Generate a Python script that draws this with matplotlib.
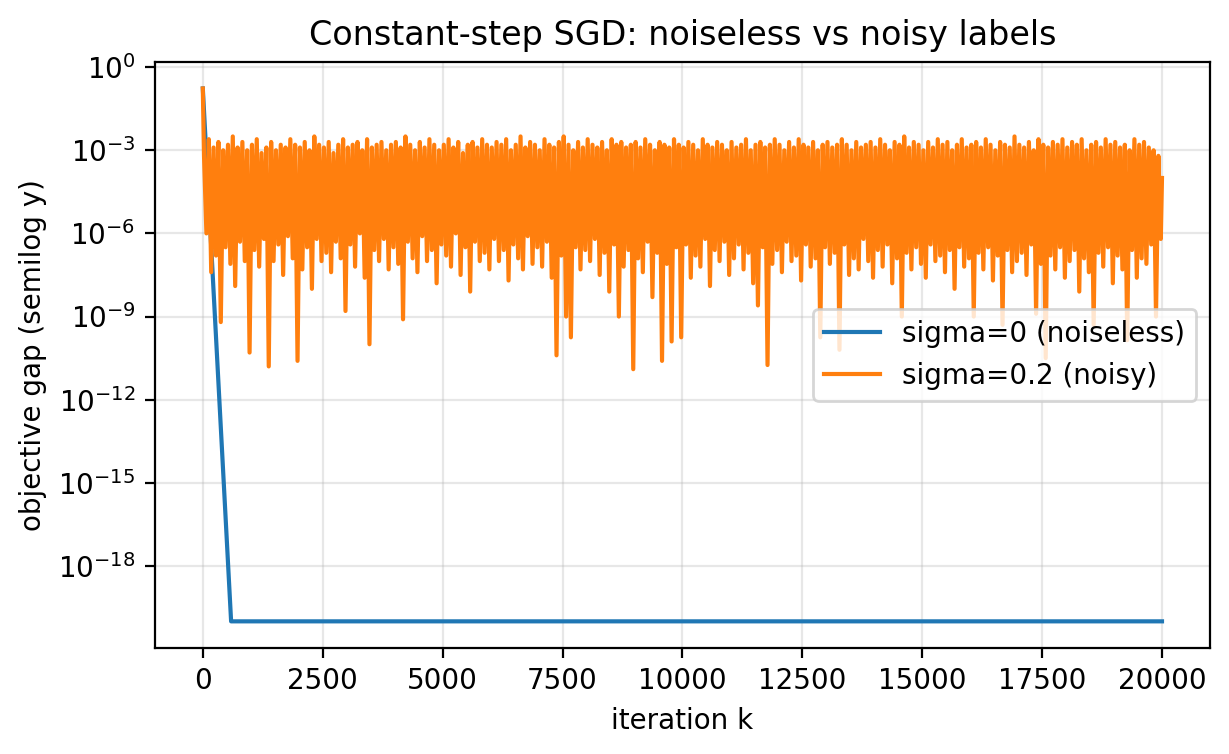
#!/usr/bin/env python3

import numpy as np
import matplotlib
matplotlib.use("Agg")
import matplotlib.pyplot as plt
from matplotlib.ticker import NullLocator

# noiseless run: geometric decay down to a floor
k_clean = [0, 590, 20000]
gap_clean = [1.7e-1, 1.0e-20, 1.0e-20]

# noisy run: log10 of the gap, per 100-iteration bin (peak, then dip)
noisy_start = -0.77
noisy_end = -4.0
bin_width = 100
tops = [
    -3.2, -2.6, -2.9, -2.7, -3.0, -2.8, -2.5, -2.9, -2.7, -3.0,
    -2.8, -2.6, -3.1, -2.9, -2.7, -3.0, -2.8, -2.9, -2.6, -2.8,
    -2.9, -2.7, -3.0, -2.5, -2.8, -2.9, -2.7, -3.1, -2.8, -2.6,
    -2.9, -2.8, -2.7, -3.0, -2.6, -2.9, -2.8, -2.7, -3.0, -2.8,
    -2.7, -2.9, -2.5, -2.8, -3.0, -2.7, -2.9, -2.6, -2.8, -3.0,
    -2.8, -2.6, -2.9, -2.7, -3.1, -2.8, -2.7, -2.9, -2.6, -2.8,
    -2.9, -2.7, -2.8, -2.6, -3.0, -2.8, -2.5, -2.9, -2.7, -2.8,
    -3.0, -2.6, -2.8, -2.9, -2.7, -2.5, -2.8, -3.0, -2.7, -2.9,
    -2.6, -2.8, -2.9, -2.7, -3.0, -2.6, -2.8, -2.7, -2.9, -2.8,
    -2.7, -2.9, -2.6, -2.8, -3.0, -2.7, -2.8, -2.9, -2.6, -2.8,
    -2.9, -2.7, -2.8, -3.0, -2.6, -2.8, -2.9, -2.7, -2.8, -3.0,
    -2.7, -2.9, -2.8, -2.6, -3.0, -2.8, -2.7, -2.9, -2.8, -2.6,
    -2.8, -3.0, -2.7, -2.9, -2.6, -2.8, -2.9, -2.7, -3.0, -2.8,
    -2.7, -2.9, -2.8, -2.6, -2.8, -3.0, -2.7, -2.9, -2.8, -2.7,
    -2.9, -2.6, -2.8, -3.0, -2.7, -2.8, -2.5, -2.9, -2.7, -2.8,
    -3.0, -2.7, -2.9, -2.6, -2.8, -2.7, -3.0, -2.8, -2.6, -2.9,
    -2.8, -2.7, -2.9, -2.6, -2.8, -3.0, -2.7, -2.8, -2.9, -2.5,
    -2.8, -2.9, -2.7, -3.0, -2.6, -2.8, -2.9, -2.7, -2.8, -2.6,
    -2.9, -2.7, -2.8, -2.6, -3.0, -2.8, -2.7, -2.9, -2.6, -2.8,
    -2.7, -2.9, -2.8, -3.0, -2.6, -2.8, -2.7, -2.9, -3.0, -3.2,
]
dips = [
    -6.0, -7.4, -6.8, -9.2, -6.5, -7.1, -7.9, -6.3, -7.0, -10.3,
    -6.6, -7.2, -6.2, -10.8, -7.0, -6.4, -7.5, -6.1, -6.9, -10.6,
    -7.3, -6.5, -8.0, -6.2, -7.0, -6.7, -7.4, -6.3, -6.9, -8.8,
    -6.4, -7.2, -6.0, -7.6, -10.0, -6.6, -7.0, -6.2, -7.3, -6.5,
    -7.1, -9.1, -6.3, -6.9, -7.4, -6.1, -7.0, -6.6, -7.8, -6.4,
    -6.8, -7.2, -6.0, -7.5, -6.5, -8.1, -6.3, -7.0, -6.7, -7.3,
    -6.2, -7.0, -6.6, -7.7, -6.4, -6.9, -7.3, -6.1, -7.1, -6.5,
    -7.2, -6.3, -7.6, -10.4, -6.8, -9.0, -9.75, -6.5, -7.3, -6.6,
    -7.0, -6.2, -7.5, -6.7, -8.1, -6.4, -9.0, -7.2, -6.6, -10.9,
    -6.9, -7.4, -6.3, -8.3, -6.7, -10.6, -7.1, -9.9, -6.5, -9.75,
    -6.4, -7.6, -6.8, -7.2, -6.2, -7.9, -6.6, -7.0, -6.3, -7.5,
    -6.9, -6.4, -7.3, -6.7, -7.8, -8.6, -6.5, -10.75, -7.1, -6.6,
    -7.4, -6.3, -7.0, -6.8, -7.7, -6.4, -7.2, -6.9, -9.75, -6.5,
    -7.1, -6.7, -10.2, -6.4, -7.5, -6.9, -7.3, -6.2, -7.0, -7.6,
    -6.6, -7.2, -6.4, -7.8, -6.9, -9.0, -6.7, -7.3, -6.5, -7.1,
    -7.6, -6.4, -7.0, -6.8, -7.4, -6.6, -8.0, -6.5, -7.2, -6.9,
    -9.0, -6.7, -7.3, -6.5, -7.7, -6.8, -9.3, -6.6, -7.4, -7.0,
    -6.7, -7.5, -6.4, -8.9, -7.1, -10.5, -6.8, -7.3, -6.5, -7.6,
    -7.0, -6.6, -8.1, -6.9, -7.4, -9.3, -6.7, -7.2, -6.5, -7.8,
    -6.8, -7.3, -9.85, -6.6, -7.6, -6.9, -7.1, -6.4, -9.0, -6.2,
]

# interleave peaks and dips along the iteration axis
n_bins = len(tops)
k_top = np.arange(n_bins) * bin_width + bin_width * 0.25
k_dip = np.arange(n_bins) * bin_width + bin_width * 0.75
k_noisy = np.concatenate([[0], np.column_stack([k_top, k_dip]).ravel(), [n_bins * bin_width]])
log_noisy = np.concatenate([[noisy_start], np.column_stack([tops, dips]).ravel(), [noisy_end]])
gap_noisy = 10.0 ** log_noisy

fig = plt.figure(figsize=(6.145, 3.77), dpi=200)
ax = fig.add_subplot(111)
fig.subplots_adjust(left=0.126, right=0.9845, top=0.918, bottom=0.1406)

ax.plot(k_clean, gap_clean, label="sigma=0 (noiseless)")
ax.plot(k_noisy, gap_noisy, label="sigma=0.2 (noisy)")
ax.set_yscale("log")
ax.yaxis.set_minor_locator(NullLocator())

ax.set_title("Constant-step SGD: noiseless vs noisy labels")
ax.set_xlabel("iteration k")
ax.set_ylabel("objective gap (semilog y)")
ax.grid(True, alpha=0.3)
ax.legend(loc="center right")

fig.savefig("out.png", dpi=200)
